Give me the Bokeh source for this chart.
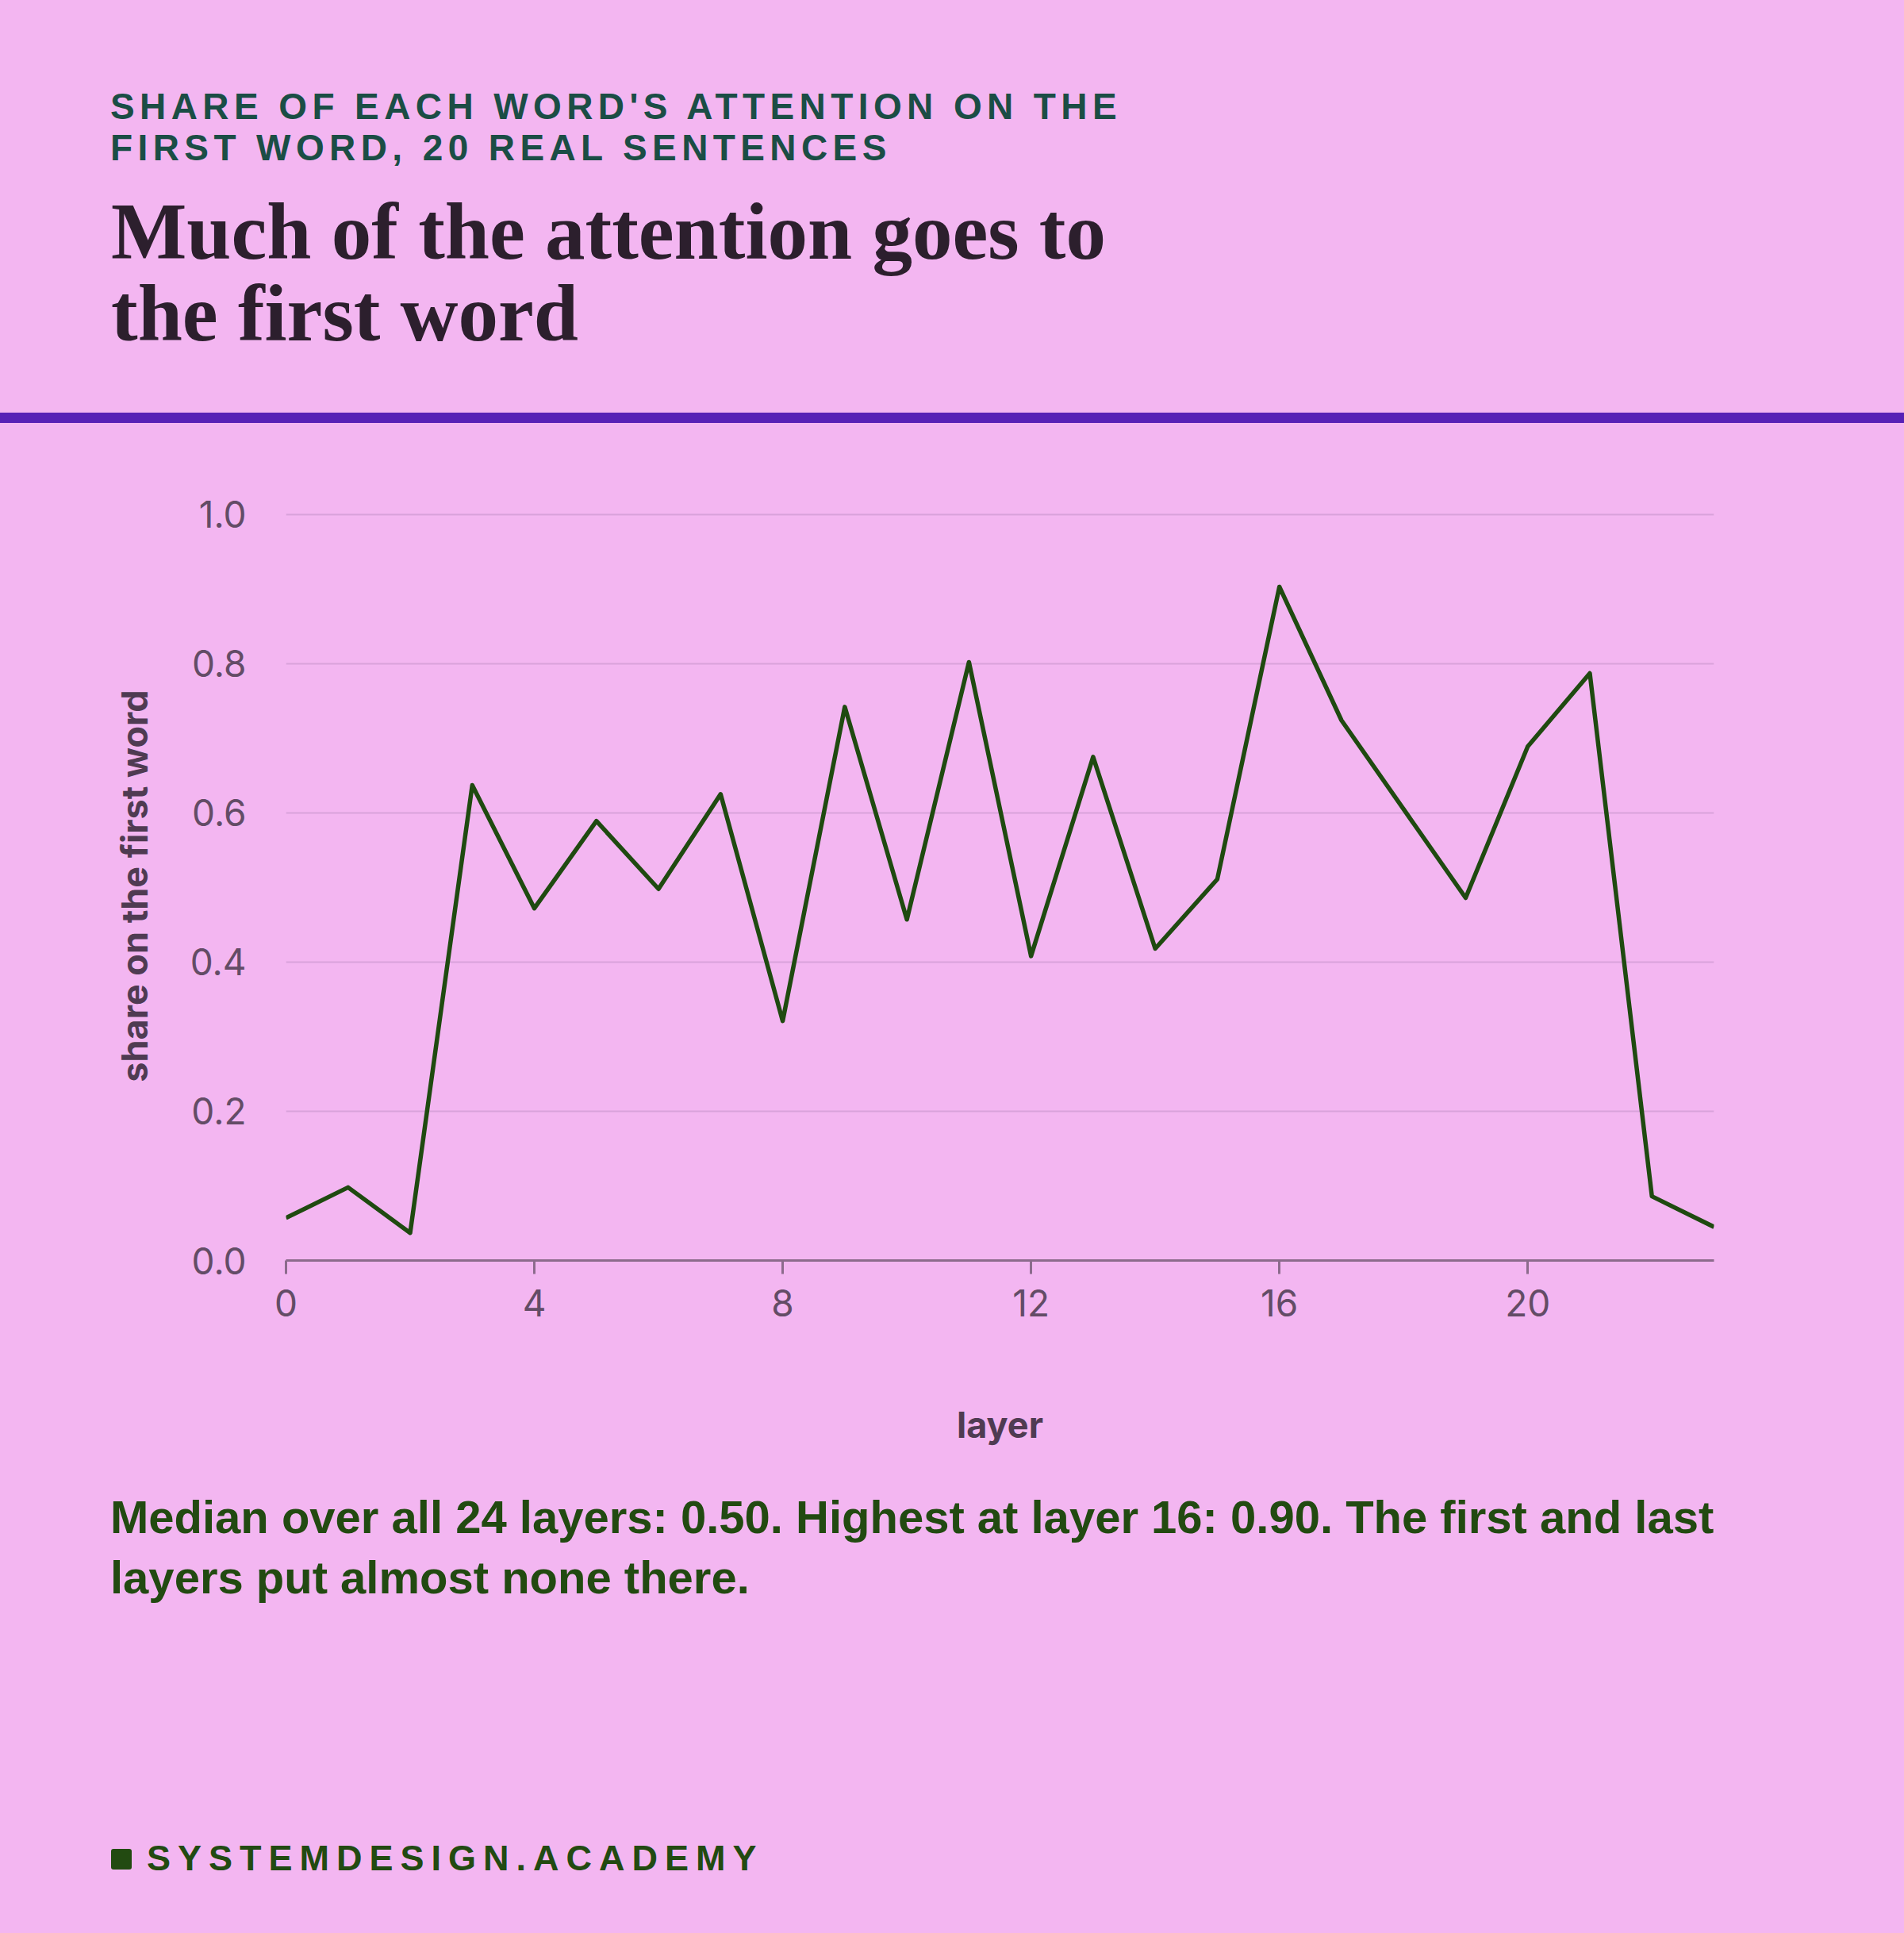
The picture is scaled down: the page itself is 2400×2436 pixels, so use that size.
from bokeh.plotting import figure
from bokeh.models import Div, FixedTicker, CustomJSTickFormatter, Range1d
from bokeh.layouts import column
from bokeh.embed import file_html
from bokeh.resources import INLINE

# ---- data ----
layers = list(range(24))
share_first_word = [0.057, 0.098, 0.037, 0.637, 0.472, 0.589, 0.498, 0.625,
                    0.321, 0.742, 0.457, 0.802, 0.408, 0.675, 0.418, 0.511,
                    0.903, 0.724, 0.605, 0.486, 0.689, 0.787, 0.086, 0.045]
x_ticks = [0, 4, 8, 12, 16, 20]
y_ticks = [0.0, 0.2, 0.4, 0.6, 0.8, 1.0]

subtitle_lines = ["SHARE OF EACH WORD'S ATTENTION ON THE", "FIRST WORD, 20 REAL SENTENCES"]
title_lines = ["Much of the attention goes to", "the first word"]
caption_lines = ["Median over all 24 layers: 0.50. Highest at layer 16: 0.90. The first and last",
                 "layers put almost none there."]
footer_text = "SYSTEMDESIGN.ACADEMY"

# ---- style ----
BG = "#F3B6F1"
W = 2400

header = Div(
    text=(
        f'<div style="position:relative;width:{W}px;height:520px;background:{BG};">'
        f'<div style="position:absolute;left:139px;top:108px;font-family:\'Liberation Sans\',Arial,sans-serif;'
        f'font-weight:700;font-size:46px;line-height:52px;letter-spacing:6.4px;color:#1B4D45;white-space:nowrap;">'
        f'{"<br>".join(subtitle_lines)}</div>'
        f'<div style="position:absolute;left:140px;top:241px;font-family:\'Liberation Serif\',serif;'
        f'font-weight:700;font-size:101px;line-height:103px;color:#2C1F2D;white-space:nowrap;">'
        f'{"<br>".join(title_lines)}</div>'
        f'</div>'
    ),
    width=W, height=520, margin=(0, 0, 0, 0),
)

rule = Div(
    text=f'<div style="width:{W}px;height:13px;background:#5721B6;"></div>',
    width=W, height=13, margin=(0, 0, 0, 0),
)

p = figure(width=W, height=1317, output_backend="svg", toolbar_location=None,
           x_range=Range1d(0, 23), y_range=Range1d(0, 1.004),
           min_border_left=360, min_border_right=240, min_border_top=111, min_border_bottom=262,
           background_fill_color=BG, border_fill_color=BG, outline_line_color=None,
           margin=(0, 0, 0, 0))

p.line(layers, share_first_word, line_width=5.5, line_color="#1F4A10", line_join="round")

# axes
p.xaxis.ticker = FixedTicker(ticks=x_ticks)
p.yaxis.ticker = FixedTicker(ticks=y_ticks)
p.yaxis.formatter = CustomJSTickFormatter(code="return tick.toFixed(1);")

for ax in (p.xaxis[0], p.yaxis[0]):
    ax.major_label_text_font = "Inter"
    ax.major_label_text_font_size = "46px"
    ax.major_label_text_color = "#634C66"
    ax.axis_label_text_font = "Inter"
    ax.axis_label_text_font_style = "bold"
    ax.axis_label_text_font_size = "45px"
    ax.axis_label_text_color = "#4F3B52"
    ax.minor_tick_line_color = None

p.xaxis.axis_label = "layer"
p.xaxis.axis_line_color = "#8C6B8C"
p.xaxis.axis_line_width = 3
p.xaxis.major_tick_line_color = "#8C6B8C"
p.xaxis.major_tick_line_width = 3
p.xaxis.major_tick_out = 17
p.xaxis.major_tick_in = 0
p.xaxis.major_label_standoff = 19
p.xaxis.axis_label_standoff = 106

p.yaxis.axis_label = "share on the first word"
p.yaxis.axis_line_color = None
p.yaxis.major_tick_line_color = None
p.yaxis.major_tick_out = 0
p.yaxis.major_tick_in = 0
p.yaxis.major_label_standoff = 50
p.yaxis.axis_label_standoff = 40

p.xgrid.grid_line_color = None
p.ygrid.grid_line_color = "#D9A2DB"
p.ygrid.grid_line_width = 2

footer = Div(
    text=(
        f'<div style="position:relative;width:{W}px;height:586px;background:{BG};">'
        f'<div style="position:absolute;left:139px;top:24px;font-family:\'Liberation Sans\',Arial,sans-serif;'
        f'font-weight:700;font-size:58px;line-height:76px;color:#224A11;white-space:nowrap;">'
        f'{"<br>".join(caption_lines)}</div>'
        f'<div style="position:absolute;left:140px;top:480px;width:26px;height:26px;border-radius:3px;background:#224A11;"></div>'
        f'<div style="position:absolute;left:185px;top:467px;font-family:\'Liberation Sans\',Arial,sans-serif;'
        f'font-weight:700;font-size:45px;line-height:50px;letter-spacing:9px;color:#224A11;white-space:nowrap;">'
        f'{footer_text}</div>'
        f'</div>'
    ),
    width=W, height=586, margin=(0, 0, 0, 0),
)

layout = column(header, rule, p, footer, spacing=0, margin=(0, 0, 0, 0),
                styles={"position": "absolute", "left": "0px", "top": "0px", "background-color": BG})

open("out.html", "w").write(file_html(layout, INLINE))
